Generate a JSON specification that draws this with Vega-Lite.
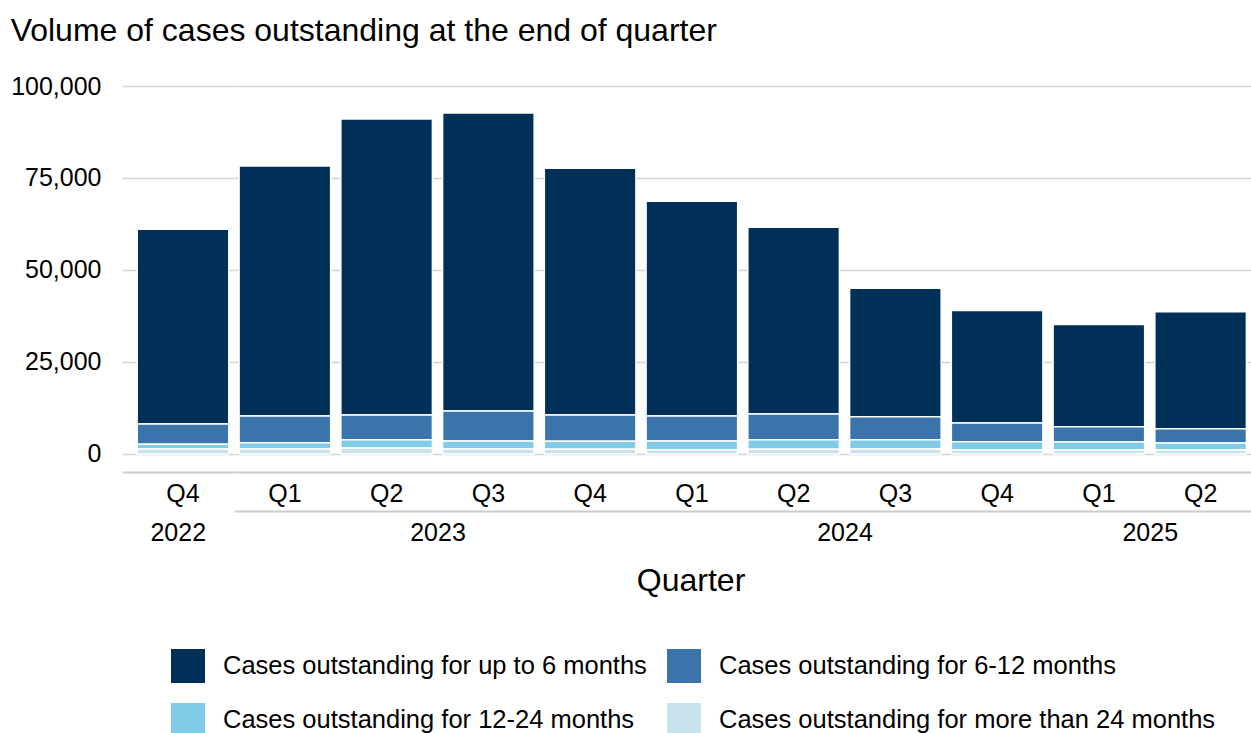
{
  "$schema": "https://vega.github.io/schema/vega-lite/v6.json",
  "padding": {"left": 10, "top": 15, "right": 0, "bottom": 0},
  "title": {"text": "Volume of cases outstanding at the end of quarter", "anchor": "start", "fontSize": 32, "fontWeight": "normal", "color": "#000000", "offset": 26},
  "datasets": {
    "cases": [
      {"year": "2022", "quarter": "Q4", "age": "Cases outstanding for up to 6 months", "rank": 4, "cases": 52925},
      {"year": "2022", "quarter": "Q4", "age": "Cases outstanding for 6-12 months", "rank": 3, "cases": 5510},
      {"year": "2022", "quarter": "Q4", "age": "Cases outstanding for 12-24 months", "rank": 2, "cases": 1280},
      {"year": "2022", "quarter": "Q4", "age": "Cases outstanding for more than 24 months", "rank": 1, "cases": 1360},
      {"year": "2023", "quarter": "Q1", "age": "Cases outstanding for up to 6 months", "rank": 4, "cases": 67930},
      {"year": "2023", "quarter": "Q1", "age": "Cases outstanding for 6-12 months", "rank": 3, "cases": 7260},
      {"year": "2023", "quarter": "Q1", "age": "Cases outstanding for 12-24 months", "rank": 2, "cases": 1710},
      {"year": "2023", "quarter": "Q1", "age": "Cases outstanding for more than 24 months", "rank": 1, "cases": 1360},
      {"year": "2023", "quarter": "Q2", "age": "Cases outstanding for up to 6 months", "rank": 4, "cases": 80410},
      {"year": "2023", "quarter": "Q2", "age": "Cases outstanding for 6-12 months", "rank": 3, "cases": 6710},
      {"year": "2023", "quarter": "Q2", "age": "Cases outstanding for 12-24 months", "rank": 2, "cases": 2260},
      {"year": "2023", "quarter": "Q2", "age": "Cases outstanding for more than 24 months", "rank": 1, "cases": 1630},
      {"year": "2023", "quarter": "Q3", "age": "Cases outstanding for up to 6 months", "rank": 4, "cases": 80965},
      {"year": "2023", "quarter": "Q3", "age": "Cases outstanding for 6-12 months", "rank": 3, "cases": 8150},
      {"year": "2023", "quarter": "Q3", "age": "Cases outstanding for 12-24 months", "rank": 2, "cases": 2170},
      {"year": "2023", "quarter": "Q3", "age": "Cases outstanding for more than 24 months", "rank": 1, "cases": 1360},
      {"year": "2023", "quarter": "Q4", "age": "Cases outstanding for up to 6 months", "rank": 4, "cases": 67030},
      {"year": "2023", "quarter": "Q4", "age": "Cases outstanding for 6-12 months", "rank": 3, "cases": 7150},
      {"year": "2023", "quarter": "Q4", "age": "Cases outstanding for 12-24 months", "rank": 2, "cases": 2180},
      {"year": "2023", "quarter": "Q4", "age": "Cases outstanding for more than 24 months", "rank": 1, "cases": 1270},
      {"year": "2024", "quarter": "Q1", "age": "Cases outstanding for up to 6 months", "rank": 4, "cases": 58350},
      {"year": "2024", "quarter": "Q1", "age": "Cases outstanding for 6-12 months", "rank": 3, "cases": 6800},
      {"year": "2024", "quarter": "Q1", "age": "Cases outstanding for 12-24 months", "rank": 2, "cases": 2360},
      {"year": "2024", "quarter": "Q1", "age": "Cases outstanding for more than 24 months", "rank": 1, "cases": 1170},
      {"year": "2024", "quarter": "Q2", "age": "Cases outstanding for up to 6 months", "rank": 4, "cases": 50750},
      {"year": "2024", "quarter": "Q2", "age": "Cases outstanding for 6-12 months", "rank": 3, "cases": 6980},
      {"year": "2024", "quarter": "Q2", "age": "Cases outstanding for 12-24 months", "rank": 2, "cases": 2620},
      {"year": "2024", "quarter": "Q2", "age": "Cases outstanding for more than 24 months", "rank": 1, "cases": 1270},
      {"year": "2024", "quarter": "Q3", "age": "Cases outstanding for up to 6 months", "rank": 4, "cases": 34920},
      {"year": "2024", "quarter": "Q3", "age": "Cases outstanding for 6-12 months", "rank": 3, "cases": 6250},
      {"year": "2024", "quarter": "Q3", "age": "Cases outstanding for 12-24 months", "rank": 2, "cases": 2530},
      {"year": "2024", "quarter": "Q3", "age": "Cases outstanding for more than 24 months", "rank": 1, "cases": 1360},
      {"year": "2024", "quarter": "Q4", "age": "Cases outstanding for up to 6 months", "rank": 4, "cases": 30580},
      {"year": "2024", "quarter": "Q4", "age": "Cases outstanding for 6-12 months", "rank": 3, "cases": 5080},
      {"year": "2024", "quarter": "Q4", "age": "Cases outstanding for 12-24 months", "rank": 2, "cases": 2250},
      {"year": "2024", "quarter": "Q4", "age": "Cases outstanding for more than 24 months", "rank": 1, "cases": 1090},
      {"year": "2025", "quarter": "Q1", "age": "Cases outstanding for up to 6 months", "rank": 4, "cases": 27780},
      {"year": "2025", "quarter": "Q1", "age": "Cases outstanding for 6-12 months", "rank": 3, "cases": 4160},
      {"year": "2025", "quarter": "Q1", "age": "Cases outstanding for 12-24 months", "rank": 2, "cases": 2170},
      {"year": "2025", "quarter": "Q1", "age": "Cases outstanding for more than 24 months", "rank": 1, "cases": 1090},
      {"year": "2025", "quarter": "Q2", "age": "Cases outstanding for up to 6 months", "rank": 4, "cases": 31750},
      {"year": "2025", "quarter": "Q2", "age": "Cases outstanding for 6-12 months", "rank": 3, "cases": 3890},
      {"year": "2025", "quarter": "Q2", "age": "Cases outstanding for 12-24 months", "rank": 2, "cases": 1900},
      {"year": "2025", "quarter": "Q2", "age": "Cases outstanding for more than 24 months", "rank": 1, "cases": 1090}
    ]
  },
  "data": {"name": "cases"},
  "vconcat": [
    {
      "title": {"text": "Quarter", "orient": "bottom", "anchor": "middle", "fontSize": 32, "fontWeight": "normal", "color": "#000000", "offset": 21, "dx": 60},
      "spacing": 0,
      "resolve": {"scale": {"x": "independent", "y": "independent"}},
      "hconcat": [
        {
          "width": 111.5, "height": 386,
          "transform": [{"filter": "datum.year == '2022'"}],
          "resolve": {"axis": {"x": "independent"}},
          "layer": [
            {
              "mark": {"type": "bar", "stroke": "#ffffff", "strokeWidth": 1.5},
              "encoding": {
                "x": {"field": "quarter", "type": "nominal", "scale": {"paddingInner": 0.1, "paddingOuter": 0.0979, "align": 0.764},
                      "axis": {"title": null, "ticks": false, "domain": true, "domainColor": "#cccccc", "domainWidth": 2, "labelAngle": 0, "labelFontSize": 25, "labelPadding": 9, "labelColor": "#000000"}},
                "y": {"field": "cases", "type": "quantitative", "stack": "zero", "scale": {"domain": [-4900, 100000], "nice": false, "zero": false},
                      "axis": {"values": [0, 25000, 50000, 75000, 100000], "labelExpr": "format(datum.value, ',d')", "title": null, "domain": false, "ticks": false, "labelPadding": 21, "labelFontSize": 25, "labelColor": "#000000", "grid": true}},
                "color": {"field": "age", "type": "nominal",
                          "scale": {"domain": ["Cases outstanding for up to 6 months", "Cases outstanding for 6-12 months", "Cases outstanding for 12-24 months", "Cases outstanding for more than 24 months"], "range": ["#003057", "#3a74ab", "#80cbe5", "#c8e3ec"]},
                          "legend": {"title": null, "orient": "none", "legendX": 49, "legendY": 563, "direction": "horizontal", "columns": 2, "symbolType": "square", "symbolSize": 1156, "symbolStrokeWidth": 0, "symbolOpacity": 1, "labelFontSize": 25.5, "labelColor": "#000000", "labelLimit": 700, "labelOffset": 18, "columnPadding": 20, "rowPadding": 20}},
                "order": {"field": "rank", "type": "quantitative"}
              }
            },
            {
              "mark": {"type": "tick", "opacity": 0},
              "encoding": {
                "x": {"field": "quarter", "type": "nominal",
                      "axis": {"orient": "bottom", "offset": 39, "labels": false, "ticks": false, "domain": false, "grid": false, "title": "2022", "titleFontSize": 25, "titleFontWeight": "normal", "titleColor": "#000000", "titlePadding": 9}}
              }
            }
          ]
        },
        {
          "width": 407, "height": 386,
          "transform": [{"filter": "datum.year == '2023'"}],
          "resolve": {"axis": {"x": "independent"}},
          "layer": [
            {
              "mark": {"type": "bar", "stroke": "#ffffff", "strokeWidth": 1.5},
              "encoding": {
                "x": {"field": "quarter", "type": "nominal", "scale": {"paddingInner": 0.1, "paddingOuter": 0.05},
                      "axis": {"title": null, "ticks": false, "domain": true, "domainColor": "#cccccc", "domainWidth": 2, "labelAngle": 0, "labelFontSize": 25, "labelPadding": 9, "labelColor": "#000000"}},
                "y": {"field": "cases", "type": "quantitative", "stack": "zero", "scale": {"domain": [-4900, 100000], "nice": false, "zero": false},
                      "axis": {"values": [0, 25000, 50000, 75000, 100000], "title": null, "domain": false, "ticks": false, "labels": false, "grid": true}},
                "color": {"field": "age", "type": "nominal",
                          "scale": {"domain": ["Cases outstanding for up to 6 months", "Cases outstanding for 6-12 months", "Cases outstanding for 12-24 months", "Cases outstanding for more than 24 months"], "range": ["#003057", "#3a74ab", "#80cbe5", "#c8e3ec"]}},
                "order": {"field": "rank", "type": "quantitative"}
              }
            },
            {
              "mark": {"type": "tick", "opacity": 0},
              "encoding": {
                "x": {"field": "quarter", "type": "nominal",
                      "axis": {"orient": "bottom", "offset": 39, "labels": false, "ticks": false, "domain": true, "domainColor": "#cccccc", "domainWidth": 2, "grid": false, "title": "2023", "titleFontSize": 25, "titleFontWeight": "normal", "titleColor": "#000000", "titlePadding": 9}}
              }
            }
          ]
        },
        {
          "width": 407, "height": 386,
          "transform": [{"filter": "datum.year == '2024'"}],
          "resolve": {"axis": {"x": "independent"}},
          "layer": [
            {
              "mark": {"type": "bar", "stroke": "#ffffff", "strokeWidth": 1.5},
              "encoding": {
                "x": {"field": "quarter", "type": "nominal", "scale": {"paddingInner": 0.1, "paddingOuter": 0.05},
                      "axis": {"title": null, "ticks": false, "domain": true, "domainColor": "#cccccc", "domainWidth": 2, "labelAngle": 0, "labelFontSize": 25, "labelPadding": 9, "labelColor": "#000000"}},
                "y": {"field": "cases", "type": "quantitative", "stack": "zero", "scale": {"domain": [-4900, 100000], "nice": false, "zero": false},
                      "axis": {"values": [0, 25000, 50000, 75000, 100000], "title": null, "domain": false, "ticks": false, "labels": false, "grid": true}},
                "color": {"field": "age", "type": "nominal",
                          "scale": {"domain": ["Cases outstanding for up to 6 months", "Cases outstanding for 6-12 months", "Cases outstanding for 12-24 months", "Cases outstanding for more than 24 months"], "range": ["#003057", "#3a74ab", "#80cbe5", "#c8e3ec"]}},
                "order": {"field": "rank", "type": "quantitative"}
              }
            },
            {
              "mark": {"type": "tick", "opacity": 0},
              "encoding": {
                "x": {"field": "quarter", "type": "nominal",
                      "axis": {"orient": "bottom", "offset": 39, "labels": false, "ticks": false, "domain": true, "domainColor": "#cccccc", "domainWidth": 2, "grid": false, "title": "2024", "titleFontSize": 25, "titleFontWeight": "normal", "titleColor": "#000000", "titlePadding": 9}}
              }
            }
          ]
        },
        {
          "width": 203.5, "height": 386,
          "transform": [{"filter": "datum.year == '2025'"}],
          "resolve": {"axis": {"x": "independent"}},
          "layer": [
            {
              "mark": {"type": "bar", "stroke": "#ffffff", "strokeWidth": 1.5},
              "encoding": {
                "x": {"field": "quarter", "type": "nominal", "scale": {"paddingInner": 0.1, "paddingOuter": 0.05},
                      "axis": {"title": null, "ticks": false, "domain": true, "domainColor": "#cccccc", "domainWidth": 2, "labelAngle": 0, "labelFontSize": 25, "labelPadding": 9, "labelColor": "#000000"}},
                "y": {"field": "cases", "type": "quantitative", "stack": "zero", "scale": {"domain": [-4900, 100000], "nice": false, "zero": false},
                      "axis": {"values": [0, 25000, 50000, 75000, 100000], "title": null, "domain": false, "ticks": false, "labels": false, "grid": true}},
                "color": {"field": "age", "type": "nominal",
                          "scale": {"domain": ["Cases outstanding for up to 6 months", "Cases outstanding for 6-12 months", "Cases outstanding for 12-24 months", "Cases outstanding for more than 24 months"], "range": ["#003057", "#3a74ab", "#80cbe5", "#c8e3ec"]}},
                "order": {"field": "rank", "type": "quantitative"}
              }
            },
            {
              "mark": {"type": "tick", "opacity": 0},
              "encoding": {
                "x": {"field": "quarter", "type": "nominal",
                      "axis": {"orient": "bottom", "offset": 39, "labels": false, "ticks": false, "domain": true, "domainColor": "#cccccc", "domainWidth": 2, "grid": false, "title": "2025", "titleFontSize": 25, "titleFontWeight": "normal", "titleColor": "#000000", "titlePadding": 9}}
              }
            }
          ]
        }
      ]
    }
  ],
  "config": {
    "font": "Liberation Sans",
    "view": {"stroke": null},
    "axis": {"gridColor": "#d4d4d4", "gridWidth": 1.5},
    "concat": {"spacing": 0}
  }
}
